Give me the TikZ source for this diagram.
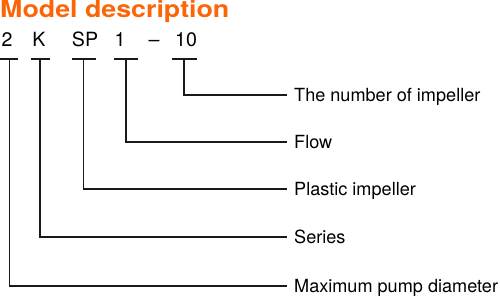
\documentclass[tikz,border=0pt]{standalone}
\usepackage{fontspec}
\setmainfont{TeX Gyre Heros}
\definecolor{titleorange}{RGB}{252,100,8}
\begin{document}
\begin{tikzpicture}[x=1pt,y=-1pt,
  conn/.style={line width=1.7pt,black!90},
  lab/.style={inner sep=0pt,text height=13pt,text depth=0pt,anchor=west,font=\fontsize{18.1}{20}\selectfont},
  code/.style={inner sep=0pt,anchor=base,font=\fontsize{19.6}{21}\selectfont},
  ttl/.style={inner sep=0pt,anchor=base west,text=titleorange,font=\fontsize{23.5}{26}\selectfont\bfseries}]
\useasboundingbox (0,0) rectangle (500,297);
% title
\node[ttl,xscale=1.14,transform shape] (title) at (0,17.5) {Model description};
% codes
\node[code] (c1) at (7,46.3) {2};
\node[code] (c2) at (39,46.3) {K};
\node[code] (c3) at (85,46.3) {SP};
\node[code] (c4) at (120,46.3) {1};
\node[code] (c5) at (154,46.3) {--};
\node[code] (c6) at (186,46.3) {10};
% T bar tops
\coordinate (s1) at (9.5,59.3);
\coordinate (s2) at (40,59.3);
\coordinate (s3) at (83.5,59.3);
\coordinate (s4) at (126,59.3);
\coordinate (s5) at (184,59.3);
\draw[conn] (0,59.3) -- (18,59.3);
\draw[conn] (30.5,59.3) -- (50,59.3);
\draw[conn] (71.5,59.3) -- (95.5,59.3);
\draw[conn] (114,59.3) -- (138,59.3);
\draw[conn] (171.5,59.3) -- (196.5,59.3);
% labels
\node[lab] (l1) at (294,94.7) {The number of impeller};
\node[lab] (l2) at (294,141.7) {Flow};
\node[lab] (l3) at (294,189) {Plastic impeller};
\node[lab] (l4) at (294,236.7) {Series};
\node[lab] (l5) at (294,286) {Maximum pump diameter};
% connectors
\draw[conn] (s5) |- ([xshift=-7pt]l1.west);
\draw[conn] (s4) |- ([xshift=-7pt]l2.west);
\draw[conn] (s3) |- ([xshift=-7pt]l3.west);
\draw[conn] (s2) |- ([xshift=-7pt]l4.west);
\draw[conn] (s1) |- ([xshift=-7pt]l5.west);
\end{tikzpicture}
\end{document}
